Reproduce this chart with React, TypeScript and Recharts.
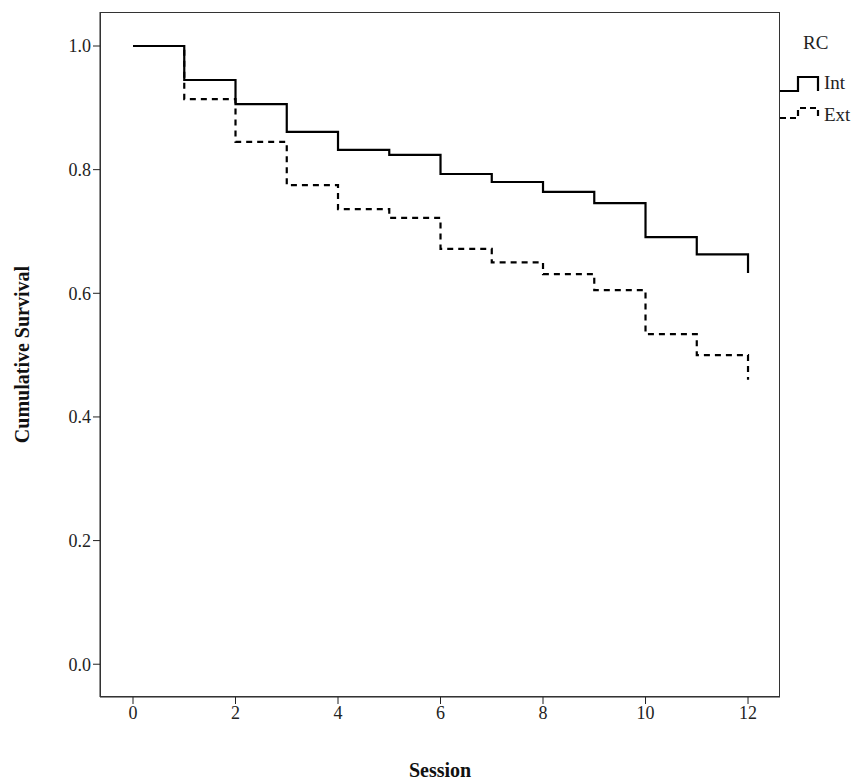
import { LineChart, Line, XAxis, YAxis } from 'recharts';

const sessions = [0, 1, 2, 3, 4, 5, 6, 7, 8, 9, 10, 11, 12, 12];
const intSurvival = [1.0, 0.945, 0.906, 0.861, 0.832, 0.824, 0.793, 0.78, 0.764, 0.746, 0.691, 0.663, 0.663, 0.633];
const extSurvival = [1.0, 0.914, 0.845, 0.775, 0.736, 0.722, 0.672, 0.65, 0.631, 0.605, 0.534, 0.5, 0.5, 0.46];
const xTicks = [0, 2, 4, 6, 8, 10, 12];
const yTicks = [0, 0.2, 0.4, 0.6, 0.8, 1.0];

const intData = sessions.map((s, i) => ({ s, v: intSurvival[i] }));
const extData = sessions.map((s, i) => ({ s, v: extSurvival[i] }));

const font = '"Liberation Serif", "Times New Roman", serif';
const tick = { fill: '#222', fontSize: 18, fontFamily: font };

export default function App() {
  return (
    <div style={{ position: 'absolute', left: 0, top: 0, width: 868, height: 782, background: '#fff', fontFamily: font }}>
      <LineChart width={868} height={782} margin={{ top: 12, right: 88, bottom: 25, left: 40 }}>
        <XAxis
          dataKey="s"
          type="number"
          domain={[-0.644, 12.624]}
          ticks={xTicks}
          allowDuplicatedCategory={false}
          height={60}
          tick={tick}
          tickSize={7}
          stroke="#222"
          label={{ value: 'Session', position: 'insideBottom', offset: -20, style: { fontWeight: 'bold', fontSize: 20, fill: '#111', fontFamily: font } }}
        />
        <YAxis
          type="number"
          domain={[-0.053, 1.055]}
          ticks={yTicks}
          tickFormatter={(v: number) => v.toFixed(1)}
          width={60}
          tick={tick}
          tickSize={7}
          stroke="#222"
          label={{ value: 'Cumulative Survival', angle: -90, position: 'insideLeft', offset: -18, style: { fontWeight: 'bold', fontSize: 20, fill: '#111', fontFamily: font, textAnchor: 'middle' } }}
        />
        <Line data={intData} dataKey="v" type="stepAfter" stroke="#000" strokeWidth={2.2} dot={false} isAnimationActive={false} />
        <Line data={extData} dataKey="v" type="stepAfter" stroke="#000" strokeWidth={2.2} strokeDasharray="6 5" dot={false} isAnimationActive={false} />
      </LineChart>
      <div style={{ position: 'absolute', left: 100, top: 12, width: 680, height: 685, border: '1px solid #333', boxSizing: 'border-box', pointerEvents: 'none' }} />
      <div style={{ position: 'absolute', left: 803, top: 32, fontSize: 19, color: '#222' }}>RC</div>
      <svg style={{ position: 'absolute', left: 780, top: 70 }} width={40} height={60}>
        <path d="M0 21 H18 V7 H38 V21" fill="none" stroke="#000" strokeWidth={2.2} />
        <path d="M0 48 H18 V38 H38 V48" fill="none" stroke="#000" strokeWidth={2.2} strokeDasharray="6 4" />
      </svg>
      <div style={{ position: 'absolute', left: 824, top: 72, fontSize: 19, color: '#222' }}>Int</div>
      <div style={{ position: 'absolute', left: 824, top: 104, fontSize: 19, color: '#222' }}>Ext</div>
    </div>
  );
}
